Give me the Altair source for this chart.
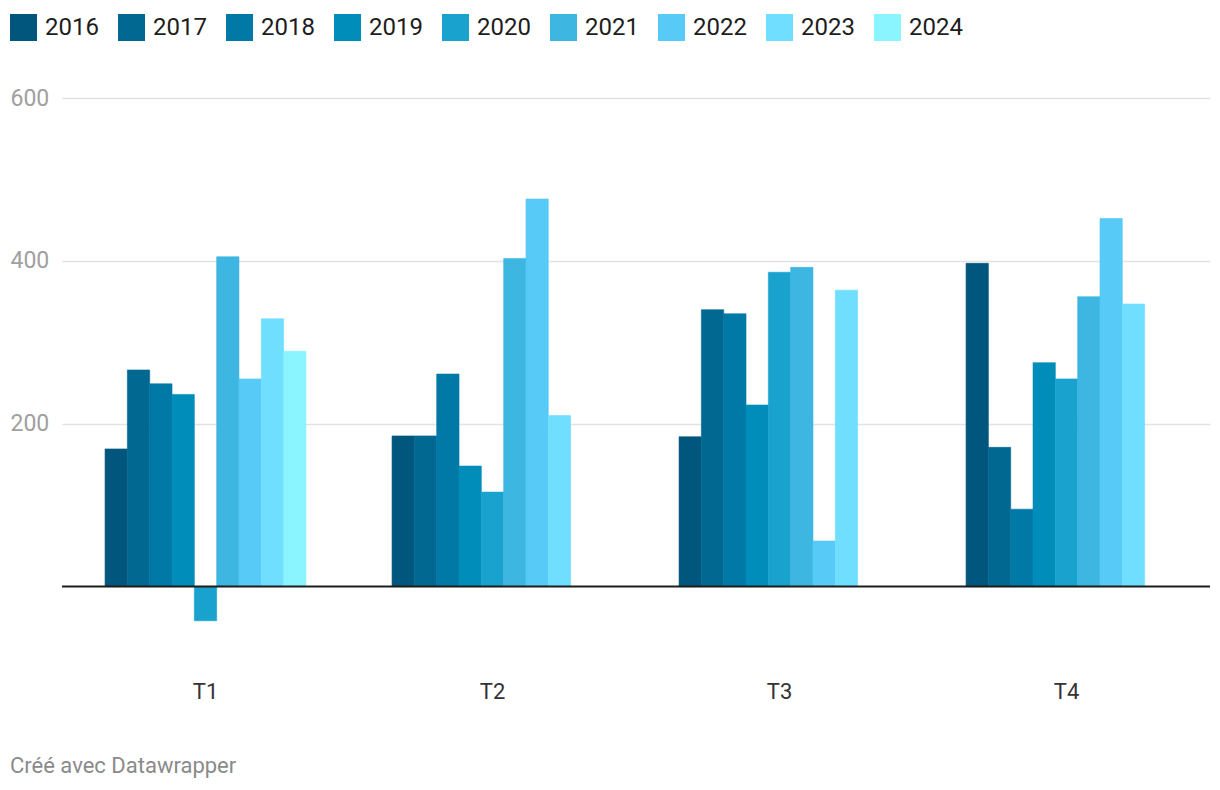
import altair as alt
import pandas as pd

quarters = ["T1", "T2", "T3", "T4"]
years = ["2016", "2017", "2018", "2019", "2020", "2021", "2022", "2023", "2024"]
colors = ["#00567c", "#006891", "#0079a6", "#008db9", "#1aa2cf",
          "#3eb6e2", "#57caf7", "#70deff", "#8af4ff"]

# values per year, order T1..T4 (None = no bar)
v2016 = [169, 185, 184, 397]
v2017 = [266, 185, 340, 171]
v2018 = [249, 261, 335, 95]
v2019 = [236, 148, 223, 275]
v2020 = [-42, 116, 386, 255]
v2021 = [405, 403, 392, 356]
v2022 = [255, 476, 56, 452]
v2023 = [329, 210, 364, 347]
v2024 = [289, None, None, None]

series = [v2016, v2017, v2018, v2019, v2020, v2021, v2022, v2023, v2024]
rows = []
for y, vals in zip(years, series):
    for q, v in zip(quarters, vals):
        if v is not None:
            rows.append({"quarter": q, "year": y, "value": v})
df = pd.DataFrame(rows)

FONT = "Roboto"

bars = alt.Chart(df).mark_bar(strokeWidth=0.6).encode(
    x=alt.X("quarter:N", sort=quarters,
            scale=alt.Scale(paddingInner=0.3, paddingOuter=0.15),
            axis=alt.Axis(title=None, labelAngle=0, ticks=False, domain=False,
                          labelFontSize=22, labelColor="#333333", labelFont=FONT,
                          labelPadding=13, grid=False)),
    xOffset=alt.XOffset("year:N", sort=years,
                        scale=alt.Scale(paddingInner=0, paddingOuter=0)),
    y=alt.Y("value:Q", scale=alt.Scale(domain=[-100, 600], nice=False, zero=False),
            axis=alt.Axis(title=None, values=[200, 400, 600], ticks=False, domain=False,
                          labelAlign="left", labelPadding=52, labelFontSize=23,
                          labelColor="#a0a0a0", labelFont=FONT, labelBaseline="middle",
                          gridColor="#e3e3e3", gridWidth=1.5)),
    color=alt.Color("year:N", sort=years,
                    scale=alt.Scale(domain=years, range=colors),
                    legend=alt.Legend(title=None, orient="none", legendX=-52, legendY=-84,
                                      direction="horizontal", columns=9,
                                      symbolType="square", symbolSize=729,
                                      symbolStrokeWidth=0, symbolOpacity=1,
                                      labelFontSize=24, labelFont=FONT, labelColor="#1d1d1d",
                                      labelOffset=8, columnPadding=19)),
    stroke=alt.Stroke("year:N", sort=years,
                      scale=alt.Scale(domain=years, range=colors), legend=None),
)

zero = alt.Chart(pd.DataFrame({"z": [0]})).mark_rule(color="#1d1d1d", strokeWidth=2).encode(
    y="z:Q"
)

footer = alt.Chart(pd.DataFrame({"t": ["Créé avec Datawrapper"]})).mark_text(
    align="left", baseline="middle", fontSize=22, font=FONT, color="#8a8a8a"
).encode(x=alt.value(-52), y=alt.value(668), text="t:N")

chart = alt.layer(bars, zero, footer).properties(
    width=1148, height=570,
    autosize=alt.AutoSizeParams(type="none"),
    padding={"left": 62, "top": 98, "right": 10, "bottom": 122},
).configure(font=FONT).configure_view(strokeWidth=0, stroke=None)

chart.save("out.html", embed_options={"renderer": "svg", "actions": False})
